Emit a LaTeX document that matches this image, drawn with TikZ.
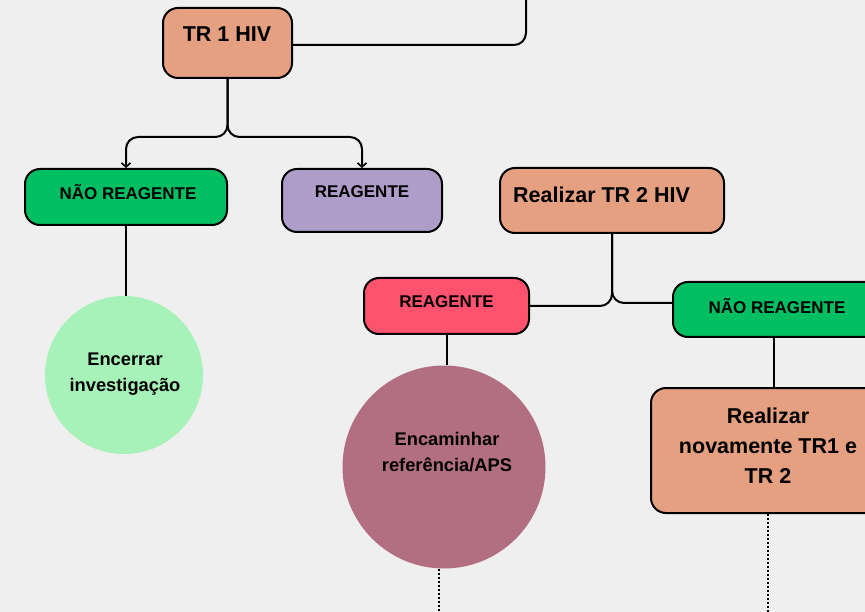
\documentclass[tikz,border=0pt]{standalone}
\usepackage{fontspec}
\setmainfont{Liberation Sans}
\usetikzlibrary{arrows.meta}
\definecolor{bgcol}{HTML}{EFEFEF}
\definecolor{peach}{HTML}{E5A082}
\definecolor{leaf}{HTML}{00BF63}
\definecolor{lilac}{HTML}{AE9DC8}
\definecolor{coral}{HTML}{FF526E}
\definecolor{mint}{HTML}{A6F2B8}
\definecolor{mauve}{HTML}{B36F82}
\begin{document}
\begin{tikzpicture}[x=1pt,y=-1pt,
  box/.style={draw=black, line width=2pt, rounded corners=15pt, inner sep=0pt},
  lbl/.style={font=\bfseries\fontsize{17}{20}\selectfont, inner sep=0pt},
  biglbl/.style={font=\bfseries\fontsize{21.5}{30}\selectfont, inner sep=0pt, align=center},
  circlbl/.style={font=\bfseries\fontsize{18.3}{26}\selectfont, inner sep=0pt, align=center},
  blob/.style={circle, inner sep=0pt},
  conn/.style={draw=black, line width=2pt, rounded corners=12pt},
  tip/.style={-{Straight Barb[length=4pt,width=9pt,line width=1.6pt]}},
  dots/.style={draw=black, line width=2pt, dash pattern=on 2pt off 2pt}]

% canvas
\useasboundingbox (0,0) rectangle (865,612);
\fill[bgcol] (0,0) rectangle (865,612);
\clip (0,0) rectangle (865,612);

% boxes
\node[box, fill=peach, minimum width=129pt, minimum height=70pt] (tr1) at (227.5,43) {};
\node[lbl, font=\bfseries\fontsize{21.5}{26}\selectfont] (tr1t) at (227,34) {TR 1 HIV};

\node[box, fill=leaf, minimum width=202pt, minimum height=56pt] (nr1) at (126,197) {};
\node[lbl] (nr1t) at (128,192) {NÃO REAGENTE};

\node[box, fill=lilac, minimum width=160pt, minimum height=63pt] (re1) at (362,200.5) {};
\node[lbl] (re1t) at (362,192) {REAGENTE};

\node[box, fill=peach, minimum width=224pt, minimum height=65pt] (tr2) at (612,200.5) {};
\node[lbl, font=\bfseries\fontsize{21.5}{26}\selectfont, anchor=west] (tr2t) at (513,195) {Realizar TR 2 HIV};

\node[box, fill=coral, minimum width=165pt, minimum height=56pt] (re2) at (446.5,306) {};
\node[lbl] (re2t) at (446.5,302) {REAGENTE};

\node[box, fill=leaf, minimum width=207pt, minimum height=55pt] (nr2) at (776.5,309.5) {};
\node[lbl] (nr2t) at (777,306) {NÃO REAGENTE};

\node[box, fill=peach, minimum width=229pt, minimum height=125pt] (again) at (765.5,450.5) {};
\node[biglbl] (againt) at (768,446) {Realizar\\novamente TR1 e\\TR 2};

% round outcomes
\node[blob, fill=mint, minimum size=158pt] (close) at (124,375) {};
\node[circlbl] (closet) at (125,374) {Encerrar\\investigação};

\node[blob, fill=mauve, minimum size=203pt] (refer) at (444,467) {};
\node[circlbl] (refert) at (447,452) {Encaminhar\\referência/APS};

% connectors
\coordinate (up1) at (526,-10);
\draw[conn] ([yshift=-2pt]tr1.east) -- (up1 |- 0,45) -- (up1);

\draw[conn, tip] (tr1.south) -- (227.5,137) -- (nr1.north |- 0,137) -- (nr1.north);
\draw[conn, tip] (tr1.south) -- (227.5,137) -- (re1.north |- 0,137) -- (re1.north);

\draw[line width=2pt] (nr1.south) -- (nr1.south |- close.north);

\draw[conn] (tr2.south) -- (612,306) -- (re2.east);
\draw[conn] (tr2.south) -- (612,303) -- ([yshift=6.5pt]nr2.west);

\draw[line width=2pt] (re2.south) -- (re2.south |- refer.north);
\draw[line width=2pt] (774,337) -- (774,388);

\coordinate (end1) at (439,620);
\coordinate (end2) at (768,620);
\draw[dots] (439,569) -- (end1);
\draw[dots] (again.south -| end2) -- (end2);
\end{tikzpicture}
\end{document}
